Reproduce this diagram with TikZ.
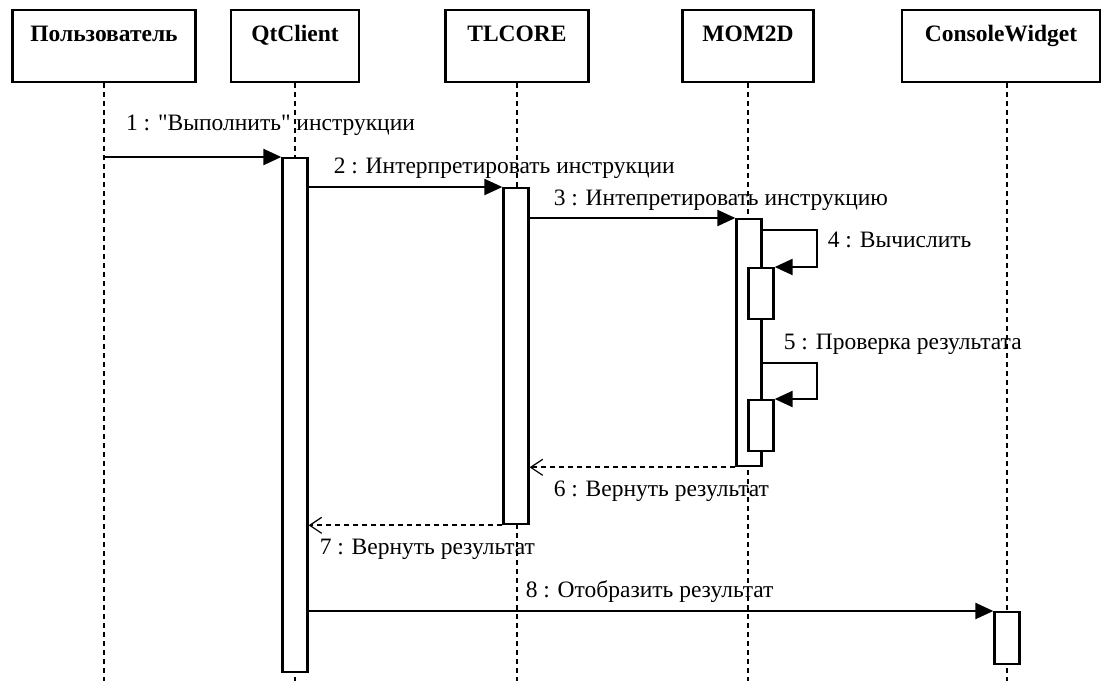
\documentclass[tikz,border=0pt]{standalone}
\usepackage{fontspec}
\setmainfont{Liberation Serif}[Ligatures=TeXOff]
\usetikzlibrary{arrows.meta,positioning}

\tikzset{
  actor/.style={draw, line width=2.6pt, inner xsep=0pt, inner ysep=0pt,
    text height=31pt, text depth=41pt, font=\fontsize{23.5}{28}\selectfont\bfseries},
  act/.style={draw, fill=white, line width=2.3pt, minimum width=25pt,
    inner sep=0pt, anchor=north},
  lifeline/.style={line width=1.4pt, dash pattern=on 5pt off 4pt},
  call/.style={line width=2.2pt, -{Triangle[length=18pt,width=16pt]}},
  reply/.style={line width=2.2pt, dash pattern=on 5pt off 4pt,
    -{Straight Barb[length=12pt,width=16pt,line width=1.2pt]}},
  lbl/.style={anchor=base west, inner sep=0pt, font=\fontsize{23.5}{28}\selectfont},
}

\begin{document}
\begin{tikzpicture}[x=1pt, y=-1pt]
    \useasboundingbox (0,0) rectangle (1103,681);

    % Objects
    \node[actor, minimum width=183pt] (usr) at (104,46) {Пользователь};
    \node[actor, minimum width=128pt] (qt) at (295,46) {QtClient};
    \node[actor, minimum width=143pt] (tl) at (517,46) {TLCORE};
    \node[actor, minimum width=131pt] (mom) at (748,46) {MOM2D};
    \node[actor, minimum width=198pt] (cw) at (1001,46) {ConsoleWidget};

    % Lifelines
    \coordinate (bottom) at (0,681);
    \foreach \n in {usr,qt,tl,mom}
        \draw[lifeline] (\n.south) -- (\n.south |- bottom);
    \draw[lifeline] ([xshift=6pt]cw.south) -- ([xshift=6pt]cw.south |- bottom);

    % Activations
    \node[act, minimum height=514pt] (qa) at (295,157) {};
    \node[act, minimum height=336pt] (ta) at (516,187) {};
    \node[act, minimum height=247pt] (ma) at (749,218) {};
    \node[act, minimum height=51pt] (n1) at (761,267) {};
    \node[act, minimum height=51pt] (n2) at (761,399) {};
    \node[act, minimum height=52pt] (ca) at (1007,611) {};

    % Messages
    \draw[call] (usr.south |- qa.north) -- (qa.north west)
        node[lbl, pos=0, xshift=21pt, yshift=27pt] {1 : "Выполнить" инструкции};
    \draw[call] (ta.north -| qa.east) -- (ta.north west)
        node[lbl, pos=0, xshift=24pt, yshift=14pt] {2 : Интерпретировать инструкции};
    \draw[call] (ma.north -| ta.east) -- (ma.north west)
        node[lbl, pos=0, xshift=23pt, yshift=13pt] {3 : Интепретировать инструкцию};

    % Self calls
    \draw[call] ([yshift=-12pt]ma.north east) coordinate (s4)
        -| ([xshift=42pt]n1.north east) -- (n1.north east);
    \node[lbl, xshift=65pt, yshift=-17pt] at (s4) {4 : Вычислить};
    \draw[call] (n2.north east -| ma.east) ++(0,-36) coordinate (s5)
        -| ([xshift=42pt]n2.north east) -- (n2.north east);
    \node[lbl, xshift=21pt, yshift=14pt] at (s5) {5 : Проверка результата};

    % Returns
    \draw[reply] (ma.south west) -- (ma.south west -| ta.east)
        node[lbl, pos=1, xshift=23pt, yshift=-29pt] {6 : Вернуть результат};
    \draw[reply] (ta.south west) -- (ta.south west -| qa.east)
        node[lbl, pos=1, xshift=10pt, yshift=-29pt] {7 : Вернуть результат};
    \draw[call] (ca.north -| qa.east) -- (ca.north west)
        node[lbl, pos=0, xshift=216pt, yshift=14pt] {8 : Отобразить результат};
\end{tikzpicture}
\end{document}
